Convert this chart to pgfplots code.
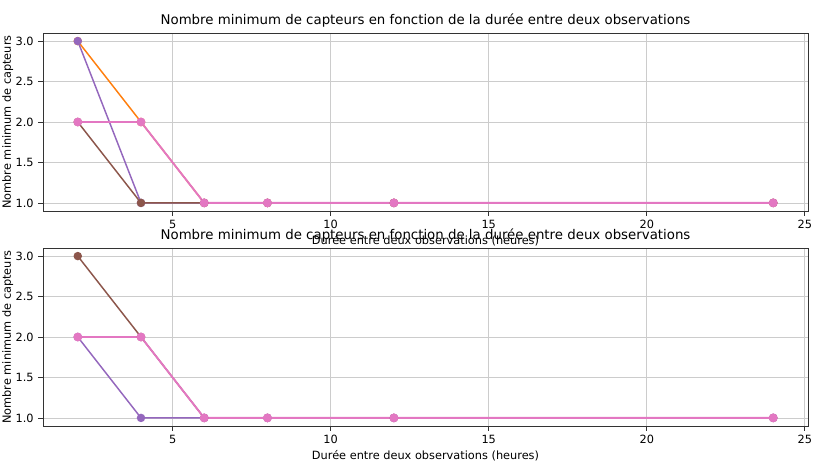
\documentclass[border=0pt]{standalone}
\usepackage{pgfplots}
\pgfplotsset{compat=1.18}
\usepackage{fontspec}
\setmainfont{DejaVu Sans}

\definecolor{tOrange}{HTML}{FF7F0E}
\definecolor{tPurple}{HTML}{9467BD}
\definecolor{tBrown}{HTML}{8C564B}
\definecolor{tPink}{HTML}{E377C2}

\pgfplotsset{
  capt/.style={
    width=573.75pt, height=133.5pt, scale only axis,
    xmin=0.9, xmax=25.1, ymin=0.9, ymax=3.1,
    xtick={5,10,15,20,25}, ytick={1,1.5,2,2.5,3},
    yticklabel style={/pgf/number format/.cd,fixed,fixed zerofill,precision=1},
    /pgf/number format/assume math mode=true,
    tick label style={font=\fontsize{8.5}{10}\selectfont},
    label style={font=\fontsize{8.5}{10}\selectfont},
    title style={font=\fontsize{10}{12}\selectfont, at={(0.5,1)}, anchor=base, yshift=0pt},
    xlabel style={at={(axis description cs:0.5,0)}, anchor=center, yshift=-22.5pt},
    ylabel style={at={(axis description cs:-0.046,0.5)}, anchor=center},
    grid=major, major grid style={gray!40, line width=0.6pt},
    axis line style={black!80, line width=0.6pt},
    tick style={black!80, line width=0.6pt},
    tick align=outside, major tick length=3.5pt,
    xtick pos=bottom, ytick pos=left,
    every axis plot/.append style={line width=1.1pt, mark=*, mark size=2.6pt},
    title={Nombre minimum de capteurs en fonction de la durée entre deux observations},
    xlabel={Durée entre deux observations (heures)},
    ylabel={Nombre minimum de capteurs},
  }
}

\begin{document}
\begin{tikzpicture}
\useasboundingbox (-32.25pt,24.75pt) rectangle (590.25pt,-330pt);

\begin{axis}[capt, at={(0,0)}, anchor=north west]
\addplot[color=tOrange, mark options={fill=tOrange}] coordinates {(2,3) (4,2) (6,1) (8,1) (12,1) (24,1)};
\addplot[color=tPurple, mark options={fill=tPurple}] coordinates {(2,3) (4,1) (6,1) (8,1) (12,1) (24,1)};
\addplot[color=tBrown, mark options={fill=tBrown}] coordinates {(2,2) (4,1) (6,1) (8,1) (12,1) (24,1)};
\addplot[color=tPink, mark options={fill=tPink}, line width=1.4pt] coordinates {(2,2) (4,2) (6,1) (8,1) (12,1) (24,1)};
\end{axis}

\begin{axis}[capt, at={(0,-161.25pt)}, anchor=north west]
\addplot[color=tBrown, mark options={fill=tBrown}] coordinates {(2,3) (4,2) (6,1) (8,1) (12,1) (24,1)};
\addplot[color=tPurple, mark options={fill=tPurple}] coordinates {(2,2) (4,1) (6,1) (8,1) (12,1) (24,1)};
\addplot[color=tPink, mark options={fill=tPink}, line width=1.4pt] coordinates {(2,2) (4,2) (6,1) (8,1) (12,1) (24,1)};
\end{axis}
\end{tikzpicture}
\end{document}
